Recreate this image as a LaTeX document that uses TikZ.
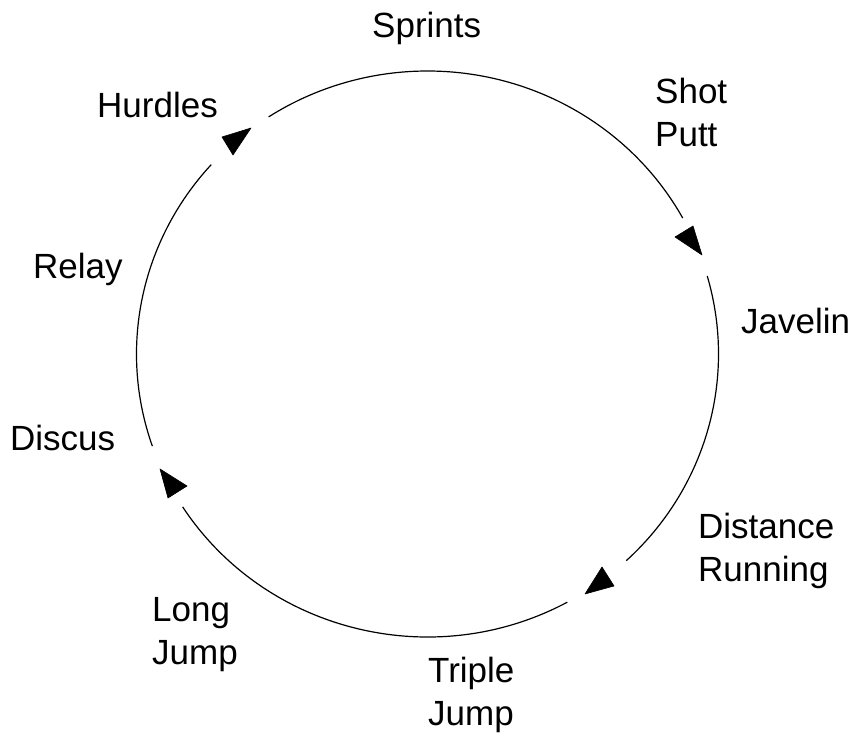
\documentclass[tikz,border=0pt]{standalone}
\usepackage{fontspec}
\setmainfont{Liberation Sans}
\begin{document}
\begin{tikzpicture}[x=1pt,y=1pt,
  lbl/.style={anchor=north west,inner sep=0pt,align=left,font=\fontsize{35}{43}\selectfont},
  ring/.style={line width=1.2pt,black},
  head/.style={fill=black,draw=black,line width=0.6pt,line join=round}]
\useasboundingbox (0,0) rectangle (857,733);
\coordinate (c) at (427.5,379);
% circle pieces
\draw[ring] ([shift={(28.7:291 and 283)}]c) arc[start angle=28.7,end angle=123.1,x radius=291,y radius=283];
\draw[ring] ([shift={(138:291 and 283)}]c) arc[start angle=138,end angle=199,x radius=291,y radius=283];
\draw[ring] ([shift={(212.7:291 and 283)}]c) arc[start angle=212.7,end angle=298.7,x radius=291,y radius=283];
\draw[ring] ([shift={(313.1:291 and 283)}]c) arc[start angle=313.1,end angle=376,x radius=291,y radius=283];
% arrowheads
\coordinate (a1a) at (222,596); \coordinate (a1b) at (251,605); \coordinate (a1c) at (233,578);
\coordinate (a2a) at (675,496); \coordinate (a2b) at (693,507); \coordinate (a2c) at (702,478);
\coordinate (a3a) at (585,139); \coordinate (a3b) at (602,166); \coordinate (a3c) at (614,147);
\coordinate (a4a) at (160,264); \coordinate (a4b) at (187,247); \coordinate (a4c) at (168,235);
\filldraw[head] (a1a) -- (a1b) -- (a1c) -- cycle;
\filldraw[head] (a2a) -- (a2b) -- (a2c) -- cycle;
\filldraw[head] (a3a) -- (a3b) -- (a3c) -- cycle;
\filldraw[head] (a4a) -- (a4b) -- (a4c) -- cycle;
% labels
\node[lbl] (sprints) at (372,721) {Sprints};
\node[lbl] (hurdles) at (97,641) {Hurdles};
\node[lbl] (shot) at (655,655) {Shot\\Putt};
\node[lbl] (javelin) at (741,425) {Javelin};
\node[lbl] (relay) at (33,480) {Relay};
\node[lbl] (discus) at (10,308) {Discus};
\node[lbl] (distance) at (698,220) {Distance\\Running};
\node[lbl] (long) at (152,136) {Long\\Jump};
\node[lbl] (triple) at (428,76) {Triple\\Jump};
\end{tikzpicture}
\end{document}
